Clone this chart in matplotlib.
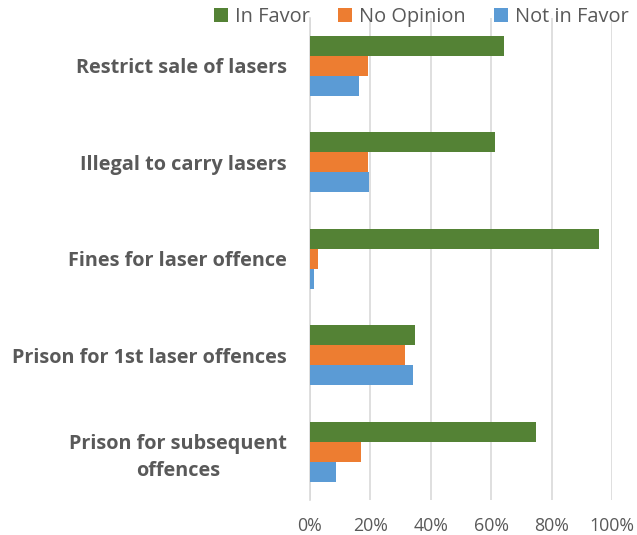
import numpy as np
import matplotlib.pyplot as plt
from matplotlib.ticker import FuncFormatter

categories = ['Restrict sale of lasers', 'Illegal to carry lasers', 'Fines for laser offence',
              'Prison for 1st laser offences', 'Prison for subsequent\noffences']
series = ['In Favor', 'No Opinion', 'Not in Favor']
in_favor = [64.4, 61.1, 95.8, 34.7, 74.7]
no_opinion = [19.1, 19.1, 2.8, 31.3, 16.8]
not_in_favor = [16.3, 19.6, 1.2, 34.0, 8.5]
colors = ['#548235', '#ED7D31', '#5B9BD5']

plt.rcParams['font.family'] = ['Open Sans', 'DejaVu Sans']

fig = plt.figure(figsize=(6.37, 5.35), dpi=100)
ax = fig.add_axes([310 / 637, 35 / 535, 302 / 637, 482.4 / 535])

y = np.arange(len(categories))
h = 0.207
for i, (vals, name, c) in enumerate(zip([in_favor, no_opinion, not_in_favor], series, colors)):
    ax.barh(y + (i - 1) * h, vals, height=h, color=c, label=name, zorder=3)

ax.set_ylim(len(categories) - 0.5, -0.5)
ax.set_xlim(0, 100)
ax.set_xticks(np.arange(0, 101, 20))
ax.xaxis.set_major_formatter(FuncFormatter(lambda v, p: f'{v:.0f}%'))
ax.set_yticks(y)
ax.set_yticklabels(categories, fontsize=14.3, fontweight='bold', color='#595959',
                   ha='right', multialignment='center', linespacing=1.45)
ax.tick_params(axis='y', length=0, pad=16.5)
ax.tick_params(axis='x', length=0, labelsize=12.8, labelcolor='#595959', pad=12)
ax.grid(axis='x', color='#D9D9D9', linewidth=1.2, zorder=0)
for s in ['top', 'right', 'bottom']:
    ax.spines[s].set_visible(False)
ax.spines['left'].set_color('#D9D9D9')
ax.spines['left'].set_linewidth(1.2)

leg = ax.legend(loc='center', ncol=3, frameon=False,
                fontsize=14.4, handlelength=0.7, handleheight=0.7, handletextpad=0.35,
                columnspacing=1.4, borderaxespad=0,
                bbox_to_anchor=(0.368, 1.0 + 1 / 482.4))
for t in leg.get_texts():
    t.set_color('#595959')

fig.savefig('out.png', dpi=100)
